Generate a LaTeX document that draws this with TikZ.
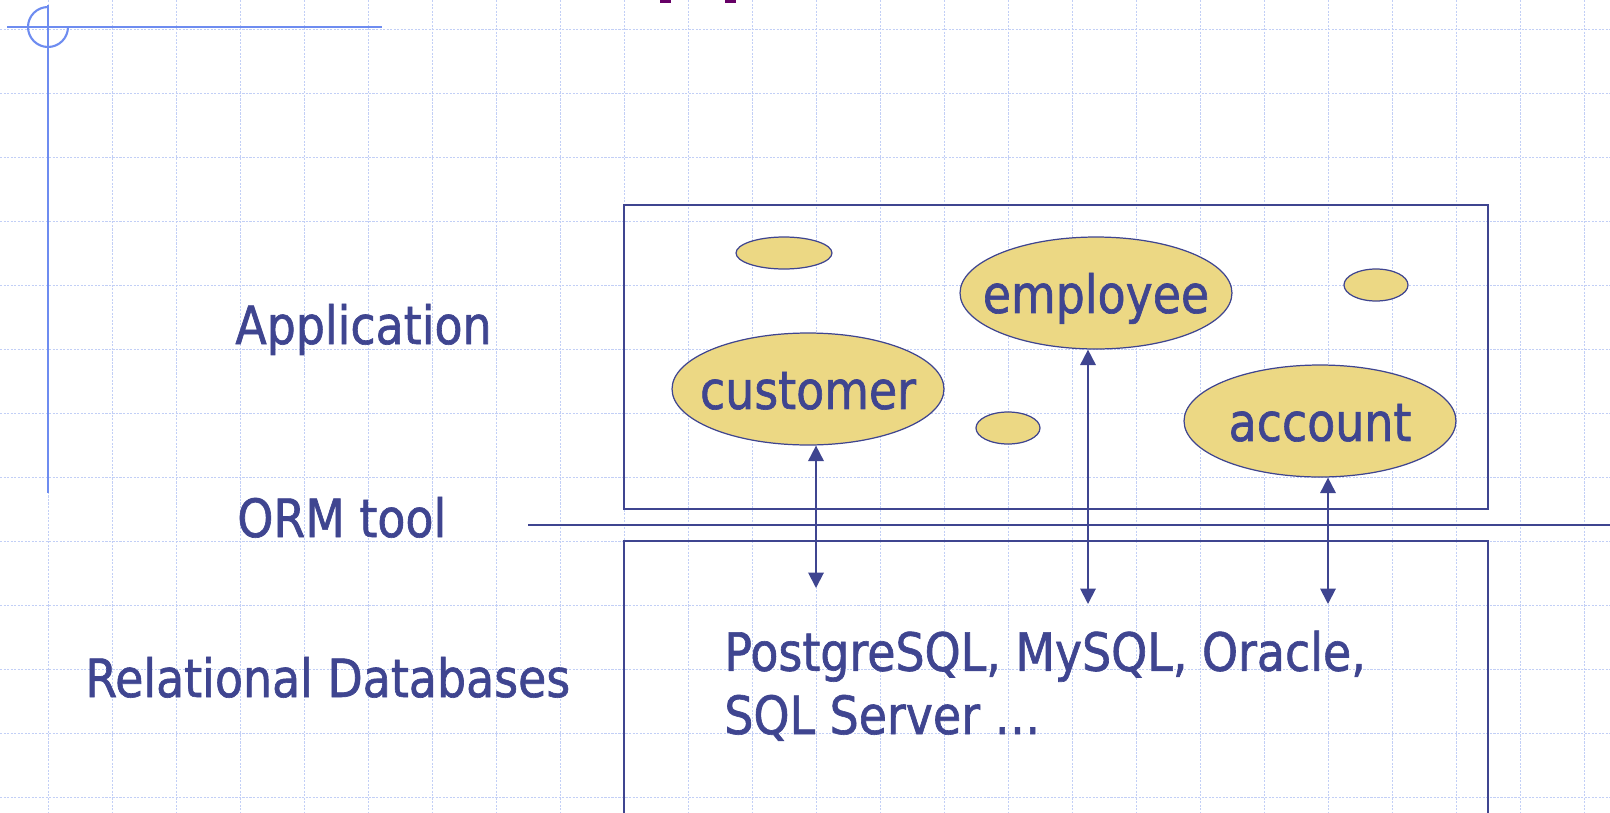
\documentclass[tikz,border=0pt]{standalone}
\usepackage{fontspec}
\setmainfont{DejaVu Sans}[FakeStretch=0.87,FakeBold=1.2]
\usetikzlibrary{arrows.meta,shapes.geometric,positioning}
\definecolor{inkblue}{HTML}{3F4590}
\definecolor{entityfill}{HTML}{ECD884}
\definecolor{gridblue}{HTML}{C2CFF6}
\definecolor{rulerblue}{HTML}{6E8CF0}
\definecolor{titlepurple}{HTML}{660066}

\tikzset{
  gridline/.style={gridblue,line width=0.5pt,dash pattern=on 1.2pt off 0.8pt},
  ruler/.style={rulerblue,line width=1.2pt},
  layerline/.style={inkblue,line width=1.1pt},
  entity/.style={ellipse,draw=inkblue,line width=0.7pt,fill=entityfill,inner xsep=-40pt,inner ysep=0pt,
    minimum width=5.44cm,minimum height=2.24cm,text=inkblue,
    font=\fontsize{30}{36}\selectfont,text height=28.8pt,text depth=6.1pt},
  blob/.style={ellipse,draw=inkblue,line width=0.7pt,fill=entityfill,inner sep=0pt,minimum height=0.64cm},
  layerlabel/.style={anchor=base west,inner sep=0pt,text=inkblue,font=\fontsize{30}{36}\selectfont},
  link/.style={inkblue,line width=1.1pt,{Triangle[length=0.31cm,width=0.31cm]}-{Triangle[length=0.31cm,width=0.31cm]}},
}

\begin{document}
\begin{tikzpicture}[x=0.02cm,y=-0.02cm]
  \useasboundingbox (0,0) rectangle (1610,812);
  % background grid
  \foreach \gx in {48,112,...,1584} \draw[gridline] (\gx,0) -- (\gx,812);
  \foreach \gy in {29,93,...,797} \draw[gridline] (0,\gy) -- (1610,\gy);
  % corner ruler
  \draw[ruler] (7,27) -- (382,27);
  \draw[ruler] (48,5) -- (48,493);
  \draw[ruler] (48,7) arc[start angle=90,end angle=360,radius=0.4cm];
  % bits of the title
  \fill[titlepurple] (660,0) rectangle (671,3);
  \fill[titlepurple] (725,0) rectangle (736,3);

  % layer names
  \node[layerlabel] (app) at (235,344) {Application};
  \node[layerlabel] (orm) at (237,537) {ORM tool};
  \node[layerlabel] (rdb) at (85,697) {Relational Databases};

  % layers
  \draw[layerline] (624,205) rectangle (1488,509);
  \draw[layerline] (528,525) -- (1610,525);
  \draw[layerline] (624,830) |- (1488,541) -- (1488,830);

  % objects
  \node[blob,minimum width=1.92cm] (blobA) at (784,253) {};
  \node[entity] (customer) at (808,389) {customer};
  \node[blob,minimum width=1.28cm] (blobB) at (1008,428) {};
  \node[entity] (employee) at (1096,293) {employee};
  \node[blob,minimum width=1.28cm] (blobC) at (1376,285) {};
  \node[entity] (account) at (1320,421) {account};

  % base is the last line here
  \node[layerlabel,align=left] (dbnames) at (724,734) {PostgreSQL, MySQL, Oracle,\\SQL Server …};

  % mappings
  \coordinate (custdb) at (816,588);
  \coordinate (empdb) at (1088,604);
  \coordinate (accdb) at (1328,604);
  \draw[link] (custdb |- customer.south) -- (custdb);
  \draw[link] (empdb |- employee.south) -- (empdb);
  \draw[link] (accdb |- account.south) -- (accdb);
\end{tikzpicture}
\end{document}
